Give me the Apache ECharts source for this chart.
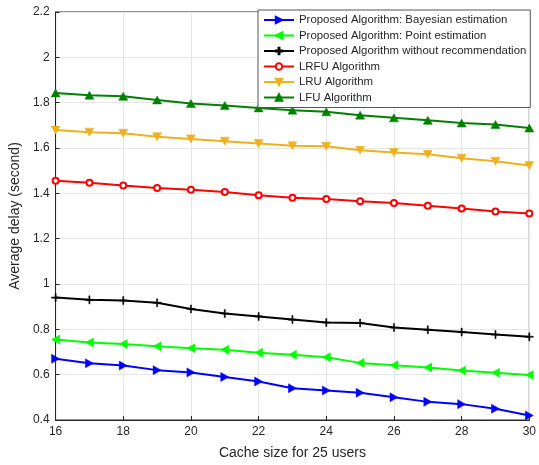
<!DOCTYPE html>
<html>
<head>
<meta charset="utf-8">
<script src="https://cdn.jsdelivr.net/npm/echarts@6/dist/echarts.min.js"></script>
<style>html,body{margin:0;padding:0;background:#fff;}#c{width:539px;height:465px;}</style>
</head>
<body>
<div id="c"></div>
<script>
const cacheSizes = [16,17,18,19,20,21,22,23,24,25,26,27,28,29,30];
const bayesian = [0.67,0.65,0.64,0.62,0.61,0.59,0.57,0.54,0.53,0.52,0.50,0.48,0.47,0.45,0.42];
const pointEst = [0.755,0.742,0.735,0.725,0.717,0.71,0.697,0.688,0.677,0.652,0.642,0.632,0.618,0.608,0.598];
const noRecommend = [0.94,0.93,0.927,0.917,0.89,0.87,0.857,0.843,0.83,0.828,0.808,0.798,0.788,0.777,0.767];
const lrfu = [1.456,1.447,1.435,1.424,1.416,1.406,1.392,1.38,1.375,1.365,1.357,1.345,1.333,1.32,1.311];
const lru = [1.679,1.67,1.665,1.65,1.64,1.63,1.62,1.61,1.608,1.59,1.58,1.572,1.555,1.542,1.523];
const lfu = [1.843,1.833,1.828,1.812,1.796,1.787,1.777,1.767,1.76,1.745,1.733,1.722,1.71,1.704,1.688];
const seriesNames = ['Proposed Algorithm: Bayesian estimation','Proposed Algorithm: Point estimation','Proposed Algorithm without recommendation','LRFU Algorithm','LRU Algorithm','LFU Algorithm'];
const xTicks = [16,18,20,22,24,26,28,30];
const yTicks = [0.4,0.6,0.8,1,1.2,1.4,1.6,1.8,2,2.2];

const FONT = '"Liberation Sans", Arial, Helvetica, sans-serif';
const TXT = '#262626';
const SYM = {
  right: 'path://M0,0 L10,5 L0,10 Z',
  left: 'path://M10,0 L0,5 L10,10 Z',
  up: 'path://M5,0 L10,10 L0,10 Z',
  down: 'path://M0,0 L10,0 L5,10 Z',
  plus: 'path://M4.3,0 H5.7 V4.3 H10 V5.7 H5.7 V10 H4.3 V5.7 H0 V4.3 H4.3 Z'
};
const defs = [
  {data: bayesian, color:'#0000ff', symbol: SYM.right, size:[8,9], fill:'#0000ff'},
  {data: pointEst, color:'#00ff00', symbol: SYM.left, size:[8,9], fill:'#00ff00'},
  {data: noRecommend, color:'#000000', symbol: SYM.plus, size:8, fill:'#000000'},
  {data: lrfu, color:'#ff0000', symbol:'circle', size:6, fill:'#ffffff'},
  {data: lru, color:'#edb120', symbol: SYM.down, size:[9,8], fill:'#edb120'},
  {data: lfu, color:'#008000', symbol: SYM.up, size:[9,8], fill:'#008000'}
];
const series = defs.map((d,i)=>({
  name: seriesNames[i],
  type:'line',
  data: cacheSizes.map((x,j)=>[x,d.data[j]]),
  symbol: d.symbol,
  symbolSize: d.size,
  showAllSymbol: true,
  lineStyle:{color:d.color,width:2},
  itemStyle:{color:d.fill,borderColor:d.color,borderWidth: d.symbol==='circle'?2:0.5},
  emphasis:{disabled:true},
  animation:false
}));
const chart = echarts.init(document.getElementById('c'), null, {renderer:'canvas'});
chart.setOption({
  animation:false,
  backgroundColor:'#ffffff',
  grid:{left:52,right:9,top:12,bottom:44,show:true,borderColor:'#262626',borderWidth:1,backgroundColor:'#fff'},
  legend:{
    data: seriesNames,
    orient:'vertical',
    left:258, top:10,
    backgroundColor:'#ffffff',
    borderColor:'#555',
    borderWidth:1,
    borderRadius:0,
    padding:[4,4,4,5],
    itemWidth:30, itemHeight:8, itemGap:3.5,
    textStyle:{fontFamily:FONT,fontSize:11.4,lineHeight:12,color:TXT}
  },
  xAxis:{
    type:'value', min:16, max:30, interval:2,
    name:'Cache size for 25 users', nameLocation:'middle', nameGap:26,
    nameTextStyle:{fontFamily:FONT,fontSize:14,color:TXT},
    axisLine:{show:true,lineStyle:{color:'#262626'}},
    axisTick:{show:true,inside:true,length:4,lineStyle:{color:'#262626'}},
    axisLabel:{fontFamily:FONT,fontSize:12,color:TXT,margin:6,formatter:v=>xTicks.includes(v)?String(v):''},
    splitLine:{show:true,lineStyle:{color:'#e6e6e6',width:1}}
  },
  yAxis:{
    type:'value', min:0.4, max:2.2, interval:0.2,
    name:'Average delay (second)', nameLocation:'middle', nameGap:24,
    nameTextStyle:{fontFamily:FONT,fontSize:14,color:TXT},
    axisLine:{show:true,lineStyle:{color:'#262626'}},
    axisTick:{show:true,inside:true,length:4,lineStyle:{color:'#262626'}},
    axisLabel:{fontFamily:FONT,fontSize:12,color:TXT,margin:6,formatter:v=>{const r=+v.toFixed(1);return yTicks.includes(r)?String(r):'';}},
    splitLine:{show:true,lineStyle:{color:'#e6e6e6',width:1}}
  },
  series: series
});
</script>
</body>
</html>
